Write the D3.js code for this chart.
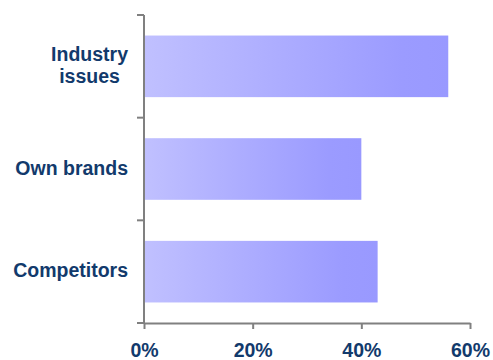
<!DOCTYPE html>
<html>
<head>
<meta charset="utf-8">
<script src="https://cdn.jsdelivr.net/npm/d3@7"></script>
<style>
  html, body { margin: 0; padding: 0; background: #fff; }
  svg { display: block; }
  text { font-family: "Liberation Sans", Arial, sans-serif; font-weight: bold; fill: #123a6c; }
</style>
</head>
<body>
<svg id="chart" width="493" height="360"></svg>
<script>
// Categories (top to bottom) and their shares
const categories = [["Industry", "issues"], ["Own brands"], ["Competitors"]];
const values = [0.56, 0.40, 0.43];
const xTicks = [0, 0.2, 0.4, 0.6];

const svg = d3.select("#chart");
const plotLeft = 144, plotRight = 470, plotTop = 15, plotBottom = 323;
const fontSize = 19.5;

const x = d3.scaleLinear().domain([0, 0.6]).range([plotLeft, plotRight]);
const y = d3.scaleBand()
  .domain(d3.range(categories.length))
  .range([plotTop, plotBottom])
  .paddingInner(0.4)
  .paddingOuter(0.2);

// Horizontal light-to-dark blue fill for each bar
const defs = svg.append("defs");
const grad = defs.append("linearGradient")
  .attr("id", "barFill")
  .attr("x1", "0%").attr("x2", "100%").attr("y1", "0%").attr("y2", "0%");
grad.append("stop").attr("offset", "0%").attr("stop-color", "#c0c0ff");
grad.append("stop").attr("offset", "85%").attr("stop-color", "#9b9bff");
grad.append("stop").attr("offset", "100%").attr("stop-color", "#9999ff");

svg.append("g")
  .selectAll("rect")
  .data(values)
  .join("rect")
  .attr("x", x(0) + 1)
  .attr("y", (d, i) => y(i))
  .attr("width", d => x(d) - x(0) - 1)
  .attr("height", y.bandwidth())
  .attr("fill", "url(#barFill)");

// Value axis along the bottom
const xAxis = svg.append("g")
  .attr("transform", `translate(0,${plotBottom})`)
  .call(d3.axisBottom(x).tickValues(xTicks).tickFormat(d3.format(".0%")).tickSize(6).tickSizeOuter(0).tickPadding(14));
xAxis.select(".domain").attr("stroke", "#808080").attr("stroke-width", 2);
xAxis.selectAll(".tick line").attr("stroke", "#808080").attr("stroke-width", 2);
xAxis.selectAll(".tick text")
  .attr("font-size", fontSize)
  .attr("font-family", "Liberation Sans, Arial, sans-serif")
  .attr("font-weight", "bold")
  .attr("fill", "#123a6c");

// Category axis: boundary ticks between bands
const yBounds = d3.range(categories.length + 1).map(i => plotTop + (plotBottom - plotTop) * i / categories.length);
const yAxis = svg.append("g");
yAxis.append("line")
  .attr("x1", plotLeft).attr("x2", plotLeft)
  .attr("y1", plotTop).attr("y2", plotBottom)
  .attr("stroke", "#808080").attr("stroke-width", 2);
yAxis.selectAll("line.tick")
  .data(yBounds)
  .join("line")
  .attr("class", "tick")
  .attr("x1", plotLeft - 7).attr("x2", plotLeft)
  .attr("y1", d => d).attr("y2", d => d)
  .attr("stroke", "#808080").attr("stroke-width", 2);

// Category labels, lines centred on each other, right edge near the axis
const lineH = 21.5;
categories.forEach((lines, i) => {
  const cy = y(i) + y.bandwidth() / 2;
  const g = svg.append("g");
  const t = g.append("text")
    .attr("font-size", fontSize)
    .attr("text-anchor", "middle");
  lines.forEach((ln, j) => {
    t.append("tspan")
      .attr("x", 0)
      .attr("y", cy + (j - (lines.length - 1) / 2) * lineH - 1)
      .attr("dy", "0.35em")
      .text(ln);
  });
  let w = 0;
  t.selectAll("tspan").each(function () { w = Math.max(w, this.getComputedTextLength()); });
  g.attr("transform", `translate(${128 - w / 2},0)`);
});
</script>
</body>
</html>
